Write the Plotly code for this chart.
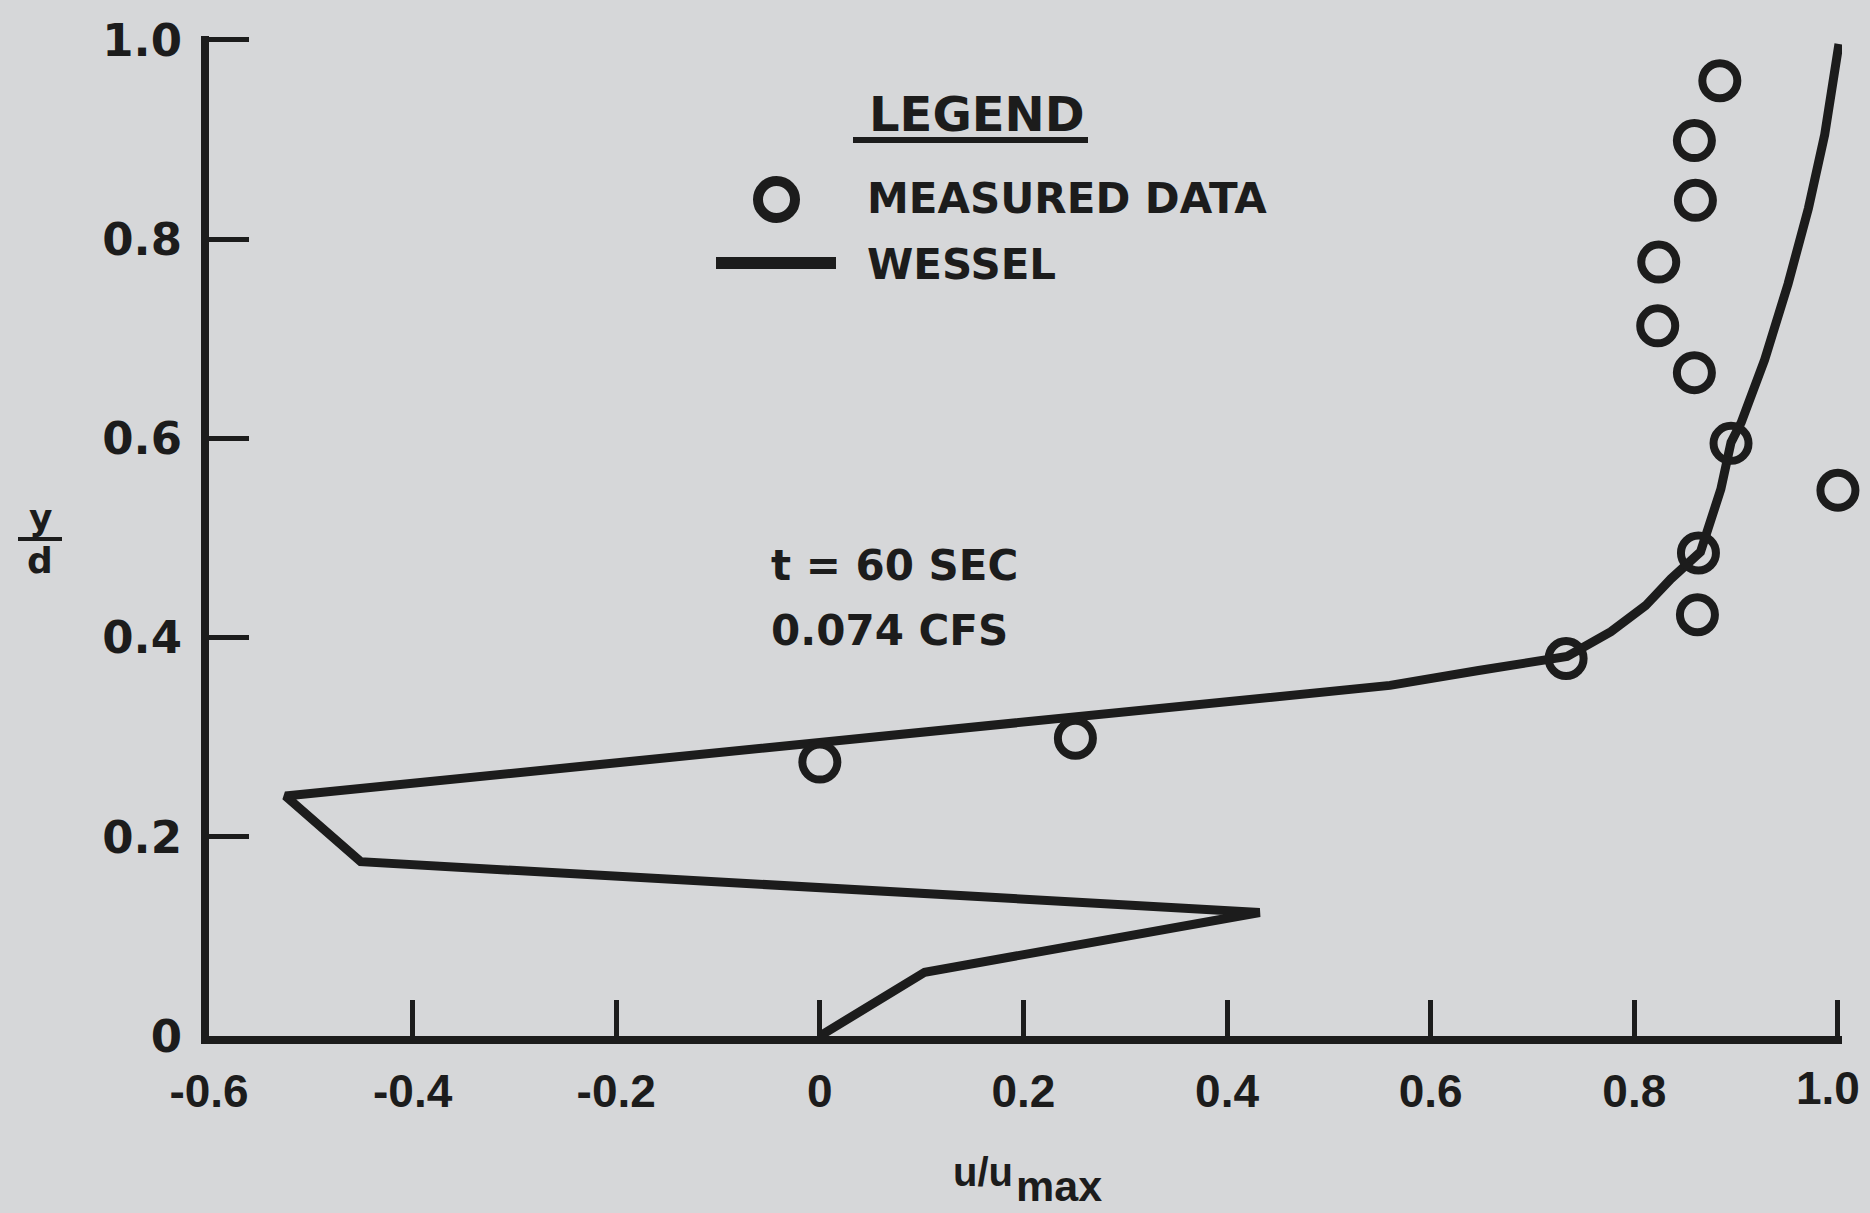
import plotly.graph_objects as go

# ---------------- data ----------------
measured_u = [0.884, 0.859, 0.860, 0.824, 0.823, 0.859, 0.895, 1.000, 0.863, 0.862, 0.733, 0.251, 0.000]
measured_y = [0.959, 0.899, 0.839, 0.777, 0.713, 0.666, 0.595, 0.548, 0.485, 0.423, 0.379, 0.299, 0.275]

wessel_u = [0.000, 0.103, 0.432, -0.451, -0.525, 0.000, 0.560, 0.647, 0.734, 0.777, 0.811, 0.836,
            0.865, 0.885, 0.895, 0.905, 0.922, 0.928, 0.951, 0.971, 0.987, 1.001]
wessel_y = [0.000, 0.064, 0.124, 0.175, 0.241, 0.294, 0.352, 0.367, 0.381, 0.406, 0.432, 0.459,
            0.486, 0.549, 0.596, 0.616, 0.659, 0.679, 0.755, 0.831, 0.905, 0.996]

x_tickvals = [-0.6, -0.4, -0.2, 0, 0.2, 0.4, 0.6, 0.8, 1.0]
x_ticktext = ["-0.6", "-0.4", "-0.2", "0", "0.2", "0.4", "0.6", "0.8", "1.0"]
y_tickvals = [0, 0.2, 0.4, 0.6, 0.8, 1.0]
y_ticktext = ["0", "0.2", "0.4", "0.6", "0.8", "1.0"]

# ---------------- style ----------------
INK = "rgb(28,28,28)"
BG = "rgb(214,215,217)"
W, H = 1870, 1213
ML, MR, MT, MB = 209, 28, 36, 177
PW = W - ML - MR
PH = H - MT - MB


def px(xp):
    return (xp - ML) / PW


def py(yp):
    return (H - MB - yp) / PH


XTICKFONT = dict(family="Liberation Sans", size=46, color=INK, weight="bold")

fig = go.Figure()
fig.add_trace(go.Scatter(
    x=wessel_u, y=wessel_y, mode="lines", name="WESSEL",
    line=dict(color=INK, width=9), cliponaxis=False, showlegend=False))
fig.add_trace(go.Scatter(
    x=measured_u, y=measured_y, mode="markers", name="MEASURED DATA",
    marker=dict(symbol="circle-open", size=35, color=INK, line=dict(color=INK, width=8)),
    cliponaxis=False, showlegend=False))

TXT = dict(family="DejaVu Sans", size=42, color=INK)

annotations = [
    dict(text="<b>LEGEND</b>", x=px(977), y=py(114), xref="paper", yref="paper",
         showarrow=False, font=dict(family="DejaVu Sans", size=48, color=INK),
         xanchor="center", yanchor="middle"),
    dict(text="<b>MEASURED DATA</b>", x=px(865), y=py(198), xref="paper", yref="paper",
         showarrow=False, font=TXT, xanchor="left", yanchor="middle"),
    dict(text="<b>WESSEL</b>", x=px(865), y=py(264), xref="paper", yref="paper",
         showarrow=False, font=TXT, xanchor="left", yanchor="middle"),
    dict(text="<b>t = 60 SEC</b>", x=px(769), y=py(565), xref="paper", yref="paper",
         showarrow=False, font=TXT, xanchor="left", yanchor="middle"),
    dict(text="<b>0.074 CFS</b>", x=px(769), y=py(630), xref="paper", yref="paper",
         showarrow=False, font=TXT, xanchor="left", yanchor="middle"),
    dict(text="<b>y</b>", x=px(40), y=py(517), xref="paper", yref="paper",
         showarrow=False, font=dict(family="DejaVu Sans", size=36, color=INK),
         xanchor="center", yanchor="middle"),
    dict(text="<b>d</b>", x=px(40), y=py(560), xref="paper", yref="paper",
         showarrow=False, font=dict(family="DejaVu Sans", size=36, color=INK),
         xanchor="center", yanchor="middle"),
    dict(text="<b>u/u</b>", x=px(1015), y=py(1172), xref="paper", yref="paper",
         showarrow=False, font=dict(family="Liberation Sans", size=40, color=INK),
         xanchor="right", yanchor="middle"),
    dict(text="<b>max</b>", x=px(1014), y=py(1186), xref="paper", yref="paper",
         showarrow=False, font=dict(family="Liberation Sans", size=43, color=INK),
         xanchor="left", yanchor="middle"),
    # last x tick label, kept inside the page edge
    dict(text=x_ticktext[-1], x=x_tickvals[-1], xref="x", y=py(1088), yref="paper",
         xshift=24, showarrow=False, font=XTICKFONT, xanchor="right", yanchor="middle"),
]

shapes = [
    # LEGEND underline
    dict(type="line", xref="paper", yref="paper", x0=px(853), x1=px(1088), y0=py(140), y1=py(140),
         line=dict(color=INK, width=6)),
    # legend circle
    dict(type="circle", xref="paper", yref="paper", x0=px(758), x1=px(795), y0=py(181), y1=py(218),
         line=dict(color=INK, width=10)),
    # legend line
    dict(type="line", xref="paper", yref="paper", x0=px(716), x1=px(836), y0=py(263), y1=py(263),
         line=dict(color=INK, width=12)),
    # fraction bar y/d
    dict(type="line", xref="paper", yref="paper", x0=px(18), x1=px(62), y0=py(539), y1=py(539),
         line=dict(color=INK, width=4)),
]

fig.update_layout(
    template="none",
    width=W, height=H,
    margin=dict(l=ML, r=MR, t=MT, b=MB, autoexpand=False),
    paper_bgcolor=BG, plot_bgcolor=BG,
    showlegend=False,
    annotations=annotations,
    shapes=shapes,
    xaxis=dict(range=[-0.6, 1.004], tickvals=x_tickvals, ticktext=x_ticktext[:-1] + [""],
               ticks="inside", ticklen=36, tickwidth=5, tickcolor=INK,
               showline=True, linewidth=8, linecolor=INK, automargin=False,
               ticklabeloverflow="allow",
               showgrid=False, zeroline=False, ticklabelstandoff=8,
               tickfont=XTICKFONT),
    yaxis=dict(range=[0, 1.004], tickvals=y_tickvals, ticktext=y_ticktext,
               ticks="inside", ticklen=40, tickwidth=5, tickcolor=INK,
               showline=True, linewidth=8, linecolor=INK, automargin=False,
               ticklabeloverflow="allow",
               showgrid=False, zeroline=False, ticklabelstandoff=10,
               tickfont=dict(family="DejaVu Sans", size=45, color=INK, weight="bold")),
)

fig.write_html("out.html", config={"displayModeBar": False},
               post_script="document.body.style.margin='0';document.body.style.overflow='hidden';")
